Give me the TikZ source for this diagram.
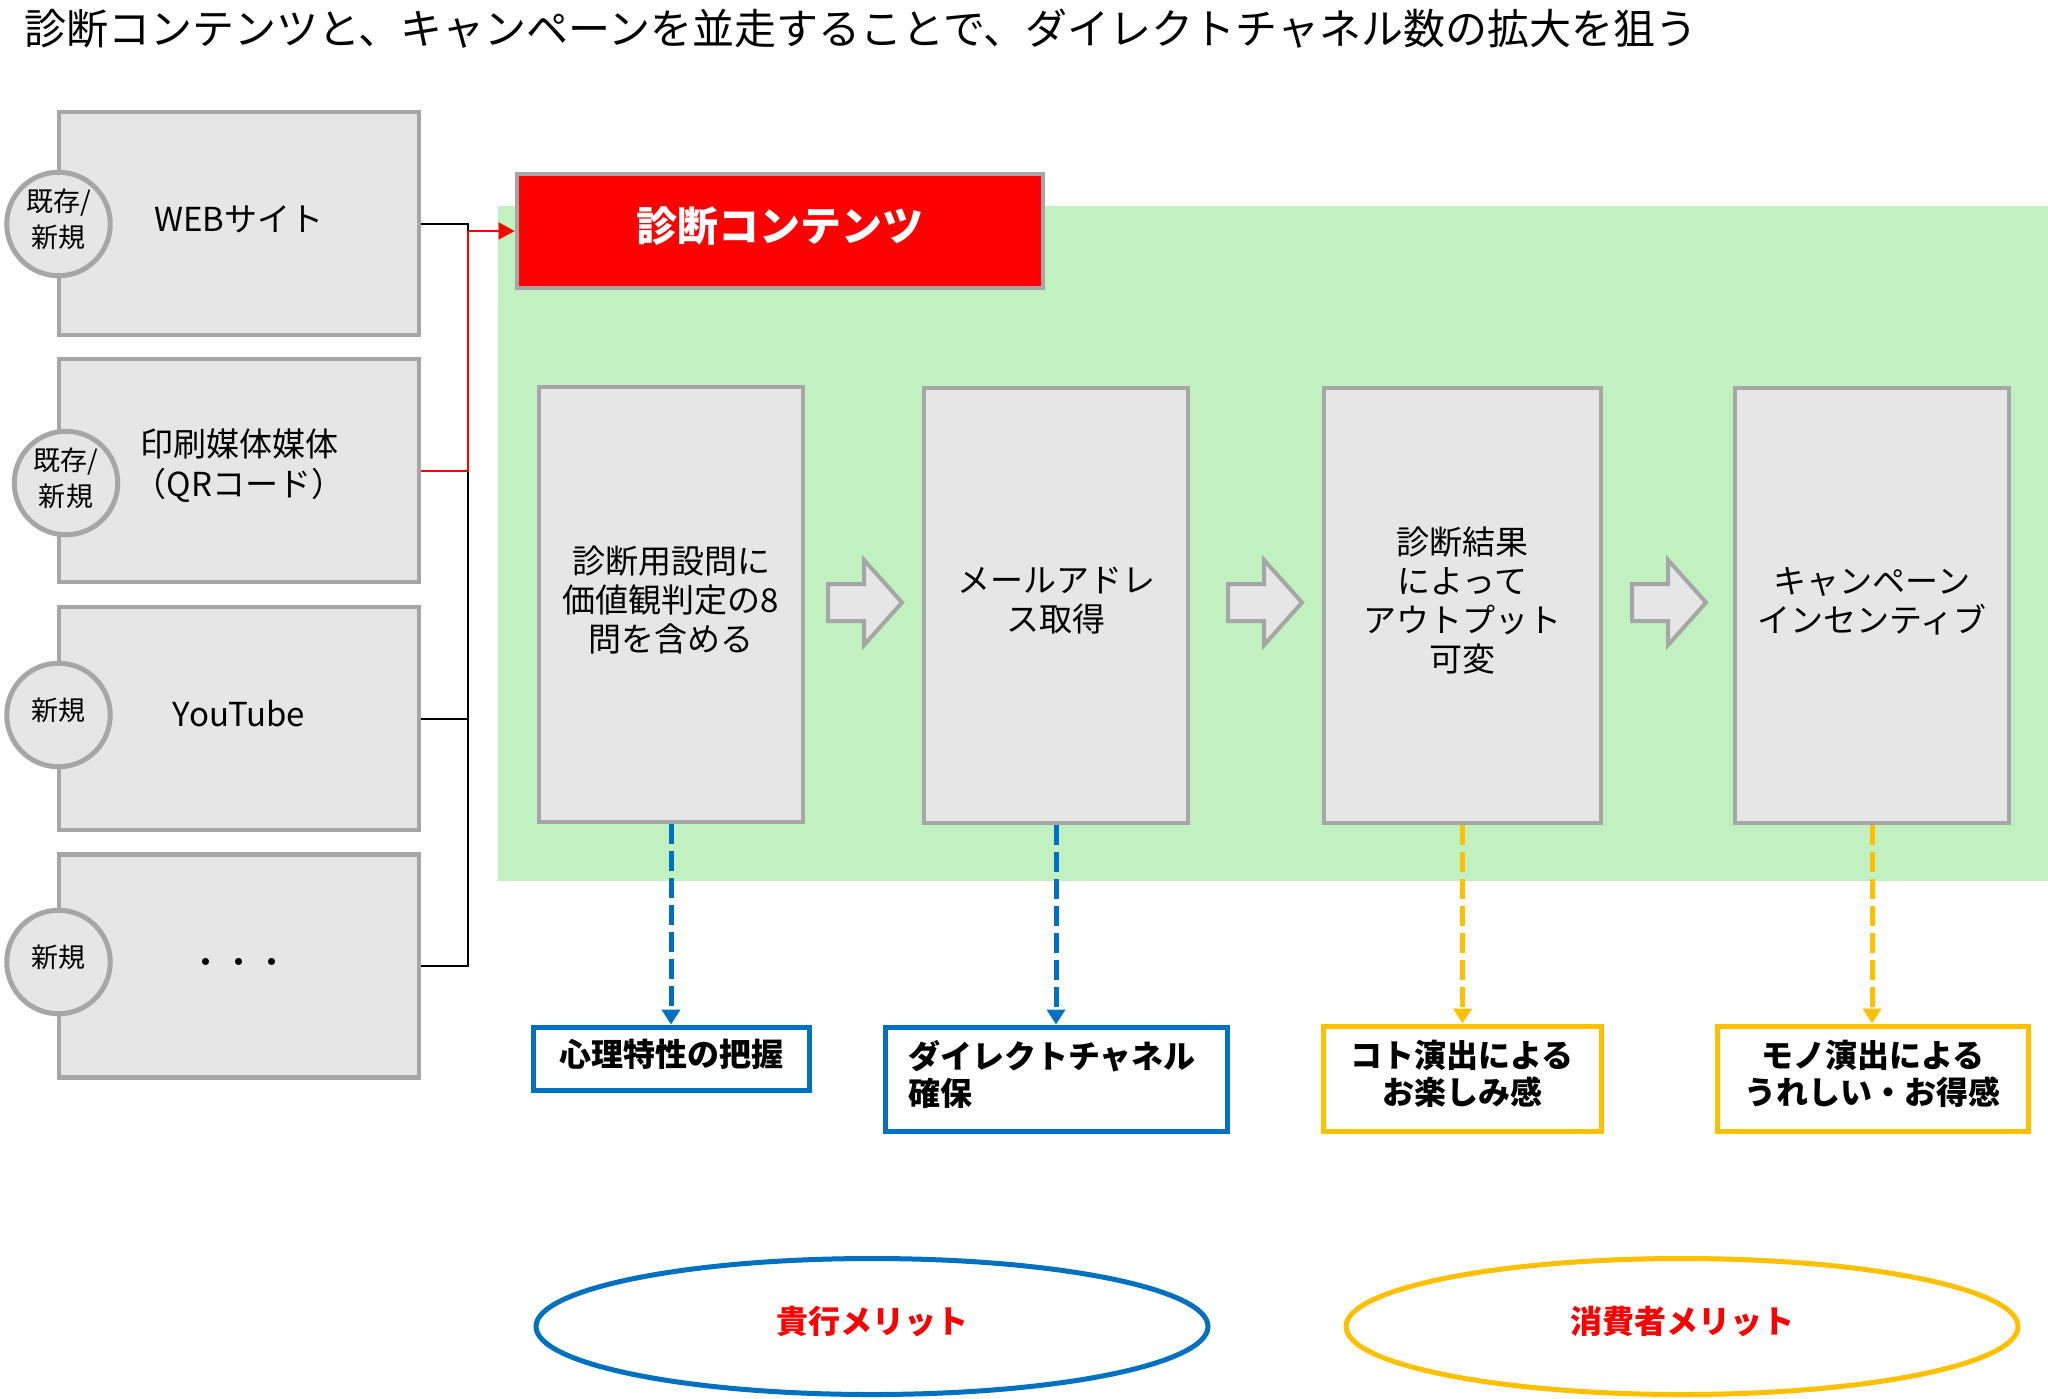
\documentclass[tikz,border=0pt]{standalone}
\usepackage{fontspec}
\setmainfont{Noto Sans CJK JP}
\usetikzlibrary{arrows.meta,shapes.geometric}
\definecolor{bxgray}{RGB}{166,166,166}
\definecolor{bxfill}{RGB}{230,230,230}
\definecolor{grn}{RGB}{193,240,193}
\definecolor{blu}{RGB}{0,112,192}
\definecolor{ylw}{RGB}{255,192,0}
\tikzset{
  txt/.style={inner sep=0pt, align=center, yshift=2.3pt},
  srcbox/.style={draw=bxgray, fill=bxfill, line width=2.25pt, minimum width=180pt, minimum height=111.5pt, inner sep=0pt},
  srctext/.style={txt, font=\fontsize{16.5}{20}\selectfont},
  tagcirc/.style={circle, draw=bxgray, fill=bxfill, line width=2.5pt, minimum size=51.75pt, inner sep=0pt},
  tagtext/.style={txt, font=\fontsize{13.5}{18}\selectfont},
  procbox/.style={draw=bxgray, fill=bxfill, line width=2.25pt, minimum height=217.5pt, inner sep=0pt},
  proctext/.style={txt, font=\fontsize{16.5}{19.5}\selectfont},
  blockarrow/.style={draw=bxgray, fill=bxfill, line width=2pt, line join=miter},
  bluebox/.style={draw=blu, fill=white, line width=2.5pt, inner sep=0pt},
  ylwbox/.style={draw=ylw, fill=white, line width=2.5pt, inner sep=0pt},
  restext/.style={txt, font=\bfseries\fontsize{16}{18.5}\selectfont},
  conn/.style={draw=black, line width=1pt},
  redconn/.style={draw=red, line width=1pt},
  bluedash/.style={draw=blu, line width=2.5pt, dash pattern=on 10pt off 3.5pt, -{Triangle[length=7.5pt,width=9pt]}},
  ylwdash/.style={draw=ylw, line width=2.5pt, dash pattern=on 10pt off 3.5pt, -{Triangle[length=7.5pt,width=9pt]}},
  merit/.style={ellipse, line width=2.5pt, minimum width=336pt, minimum height=68pt, inner sep=0pt},
  merittext/.style={txt, text=red, font=\bfseries\fontsize{16}{18}\selectfont}
}
\begin{document}
\begin{tikzpicture}[x=0.5pt,y=-0.5pt]
\useasboundingbox (0,0) rectangle (2048,1398);
\fill[white] (0,0) rectangle (2048,1398);

% title
\node[anchor=west, inner sep=0pt, font=\fontsize{21}{24}\selectfont] (title) at (24,29)
  {診断コンテンツと、キャンペーンを並走することで、ダイレクトチャネル数の拡大を狙う};

% green zone
\fill[grn] (498,206) rectangle (2048,881);

% source boxes
\node[srcbox, label={[srctext]center:WEBサイト}] (s1) at (239,223.5) {};
\node[srcbox, label={[srctext]center:{印刷媒体媒体\\（QRコード）}}] (s2) at (239,470.5) {};
\node[srcbox, label={[srctext]center:YouTube}] (s3) at (239,718.5) {};
\node[srcbox, label={[srctext, yshift=-2.3pt]center:・・・}] (s4) at (239,966) {};

\node[tagcirc, label={[tagtext]center:{既存/\\新規}}] (c1) at (58.5,224) {};
\node[tagcirc, label={[tagtext]center:{既存/\\新規}}] (c2) at (66,483) {};
\node[tagcirc, label={[tagtext]center:新規}] (c3) at (58.5,715) {};
\node[tagcirc, label={[tagtext]center:新規}] (c4) at (58.5,962) {};

% red box
\node[draw=bxgray, fill=red, line width=2.4pt, minimum width=263pt, minimum height=57pt, inner sep=0pt,
      label={[txt, text=white, font=\bfseries\fontsize{20.5}{24}\selectfont]center:診断コンテンツ}] (rb) at (780,231) {};

% bus connectors
\coordinate (bus) at (468,0);
\draw[conn] (s1.east) -- (s1.east -| bus) -- (s4.east -| bus) -- (s4.east);
\draw[conn] (s3.east) -- (s3.east -| bus);
\draw[redconn] (s2.east) -- (s2.east -| bus) -- (bus |- rb.west);
\draw[redconn, -{Triangle[length=8pt,width=8.5pt]}] (bus |- rb.west) -- (rb.west);

% process boxes
\node[procbox, minimum width=132pt, label={[proctext]center:{診断用設問に\\価値観判定の8\\問を含める}}] (pA) at (671,604.5) {};
\node[procbox, minimum width=132pt, label={[proctext]center:{メールアドレ\\ス取得}}] (pB) at (1056,605.5) {};
\node[procbox, minimum width=138.5pt, label={[proctext]center:{診断結果\\によって\\アウトプット\\可変}}] (pC) at (1462.5,605.5) {};
\node[procbox, minimum width=137pt, label={[proctext]center:{キャンペーン\\インセンティブ}}] (pD) at (1872,605.5) {};

% block arrows
\foreach \xa in {828,1228,1632}{
  \draw[blockarrow] (\xa,584) -- (\xa+36,584) -- (\xa+36,560) -- (\xa+74,602.5)
    -- (\xa+36,645) -- (\xa+36,621) -- (\xa,621) -- cycle;
}

% result boxes
\node[bluebox, minimum width=138pt, minimum height=31.5pt, label={[restext]center:心理特性の把握}] (b1) at (671,1058.5) {};
\node[bluebox, minimum width=171pt, minimum height=52pt, label={[restext, text width=148pt, align=left]center:{ダイレクトチャネル\\確保}}] (b2) at (1056,1079) {};
\node[ylwbox, minimum width=139pt, minimum height=52.5pt, label={[restext]center:{コト演出による\\お楽しみ感}}] (y1) at (1462,1078.5) {};
\node[ylwbox, minimum width=155.5pt, minimum height=52.5pt, label={[restext]center:{モノ演出による\\うれしい・お得感}}] (y2) at (1872.5,1078.5) {};

% dashed arrows
\draw[bluedash] (pA.south) -- (b1.north);
\draw[bluedash] (pB.south) -- (pB.south |- b2.north);
\draw[ylwdash] (pC.south) -- (pC.south |- y1.north);
\draw[ylwdash] (pD.south) -- (pD.south |- y2.north);

% merit ellipses
\node[merit, draw=blu, label={[merittext]center:貴行メリット}] (e1) at (872,1326.5) {};
\node[merit, draw=ylw, label={[merittext]center:消費者メリット}] (e2) at (1682,1326.5) {};
\end{tikzpicture}
\end{document}
